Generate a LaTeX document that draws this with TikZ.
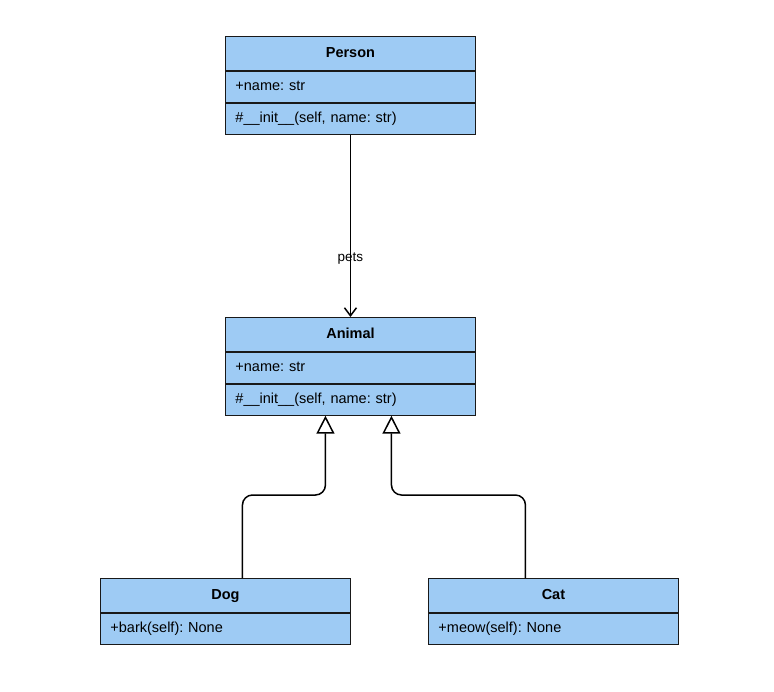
\documentclass[tikz,border=0pt]{standalone}
\usepackage{fontspec}
\setmainfont{Liberation Sans}
\usetikzlibrary{arrows.meta}
\definecolor{boxfill}{RGB}{158,203,244}
\definecolor{boxline}{RGB}{25,25,25}
\frenchspacing
\begin{document}
\begin{tikzpicture}[x=1pt,y=-1pt,
  umlhead/.style={draw=boxline, fill=boxfill, line width=0.9pt, minimum width=250pt, minimum height=34pt, inner sep=0pt, text height=10.5pt, text depth=3pt, anchor=north west, font=\bfseries\fontsize{14.5}{17}\selectfont},
  umlrow/.style={draw=boxline, fill=boxfill, line width=0.9pt, text width=230pt, inner xsep=10pt, inner ysep=0pt, text height=10.5pt, text depth=3pt, minimum height=31pt, align=left, anchor=north west, font=\fontsize{14.5}{17}\selectfont},
  assoc/.style={line width=1.5pt, -{Straight Barb[length=8pt,width=12pt,line width=1.5pt]}},
  gen/.style={line width=1.5pt, rounded corners=10pt, -{Triangle[length=18pt,width=18pt,fill=white,line width=1.5pt]}}
]
\useasboundingbox (0,0) rectangle (774,691);
% Person
\node[umlhead] (person) at (225,36) {Person};
\node[umlrow] (personattr) at (person.south west) {+name: str};
\node[umlrow] (personmeth) at (personattr.south west) {\#\_\_init\_\_(self, name: str)};
% Animal
\node[umlhead] (animal) at (225,317) {Animal};
\node[umlrow] (animalattr) at (animal.south west) {+name: str};
\node[umlrow] (animalmeth) at (animalattr.south west) {\#\_\_init\_\_(self, name: str)};
% Dog
\node[umlhead] (dog) at (100,578) {Dog};
\node[umlrow] (dogmeth) at (dog.south west) {+bark(self): None};
% Cat
\node[umlhead] (cat) at (428,578) {Cat};
\node[umlrow] (catmeth) at (cat.south west) {+meow(self): None};
% connectors
\draw[assoc] (personmeth.south) -- (animal.north) node[pos=0.68, font=\fontsize{13.5}{16}\selectfont] (petslabel) {pets};
\draw[gen] ([xshift=17pt]dog.north) -- ++(0,-83) -| ([xshift=-25pt]animalmeth.south);
\draw[gen] ([xshift=-28pt]cat.north) -- ++(0,-83) -| ([xshift=41pt]animalmeth.south);
\end{tikzpicture}
\end{document}
